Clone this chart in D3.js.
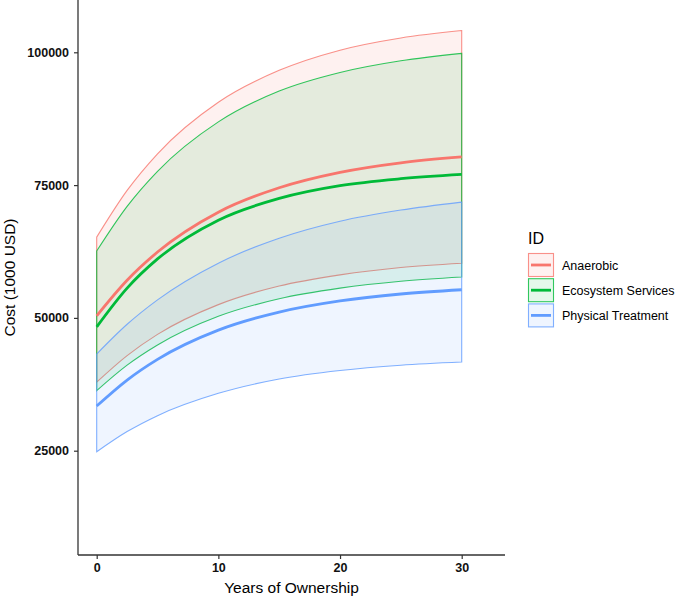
<!DOCTYPE html>
<html><head><meta charset="utf-8">
<script src="https://cdn.jsdelivr.net/npm/d3@7"></script>
<style>
html,body{margin:0;padding:0;background:#fff;}
svg{display:block;font-family:"Liberation Sans",Arial,sans-serif;}
</style></head>
<body><svg id="c" width="685" height="599"></svg>
<script>
const years = [0, 2.5, 5, 10, 15, 20, 25, 30];
const seriesNames = ["Anaerobic", "Ecosystem Services", "Physical Treatment"];
const anaerobicMean  = [50400, 57100, 62400, 69900, 74500, 77400, 79200, 80300];
const anaerobicLower = [37900, 42900, 46900, 52500, 56000, 58100, 59500, 60300];
const anaerobicUpper = [65200, 74000, 80900, 90600, 96600, 100400, 102700, 104100];
const ecoMean  = [48300, 55600, 61100, 68400, 72500, 74900, 76200, 77000];
const ecoLower = [36300, 41100, 44900, 50300, 53600, 55600, 56900, 57700];
const ecoUpper = [62600, 71000, 77600, 86900, 92700, 96200, 98400, 99800];
const physMean  = [33400, 38300, 42200, 47700, 51100, 53200, 54500, 55300];
const physLower = [24800, 28600, 31600, 35800, 38500, 40100, 41100, 41700];
const physUpper = [43200, 48800, 53400, 60300, 65000, 68200, 70300, 71800];
const xTicks = [0, 10, 20, 30];
const yTicks = [25000, 50000, 75000, 100000];
const colors = ["#F8766D", "#00BA38", "#619CFF"];

const series = [
  {name: seriesNames[0], mean: anaerobicMean, lower: anaerobicLower, upper: anaerobicUpper},
  {name: seriesNames[1], mean: ecoMean, lower: ecoLower, upper: ecoUpper},
  {name: seriesNames[2], mean: physMean, lower: physLower, upper: physUpper}
];

const svg = d3.select("#c");
const P = {left: 78, right: 505, top: 0, bottom: 555};
const x = d3.scaleLinear().domain([0, 30]).range([96.7, 461.7]);
const y = d3.scaleLinear().domain([25000, 100000]).range([450.7, 52.3]);

const g = svg.append("g");
const curve = d3.curveMonotoneX;

series.forEach((s, i) => {
  const pts = years.map((t, j) => ({t, lo: s.lower[j], hi: s.upper[j]}));
  const area = d3.area().x(d => x(d.t)).y0(d => y(d.lo)).y1(d => y(d.hi)).curve(curve);
  g.append("path").attr("d", area(pts) + "Z")
    .attr("fill", colors[i]).attr("fill-opacity", 0.1)
    .attr("stroke", colors[i]).attr("stroke-opacity", 0.8).attr("stroke-width", 1.1);
});
series.forEach((s, i) => {
  const pts = years.map((t, j) => ({t, v: s.mean[j]}));
  const line = d3.line().x(d => x(d.t)).y(d => y(d.v)).curve(curve);
  g.append("path").attr("d", line(pts))
    .attr("fill", "none").attr("stroke", colors[i]).attr("stroke-width", 2.8);
});

// axes
const axCol = "#333333";
svg.append("line").attr("x1", P.left).attr("x2", P.left).attr("y1", P.top).attr("y2", P.bottom)
  .attr("stroke", axCol).attr("stroke-width", 1.3);
svg.append("line").attr("x1", P.left).attr("x2", P.right).attr("y1", P.bottom).attr("y2", P.bottom)
  .attr("stroke", axCol).attr("stroke-width", 1.3);

const yAxis = d3.axisLeft(y).tickValues(yTicks).tickSize(4).tickPadding(5).tickFormat(d3.format("d"));
const ya = svg.append("g").attr("transform", `translate(${P.left},0)`).call(yAxis);
ya.select(".domain").remove();
ya.selectAll(".tick line").attr("stroke", axCol).attr("stroke-width", 1.2);
ya.selectAll(".tick text").attr("font-size", 12.5).attr("font-weight", "bold").attr("fill", "#111")
  .attr("font-family", "Liberation Sans, Arial, sans-serif");

const xAxis = d3.axisBottom(x).tickValues(xTicks).tickSize(4).tickPadding(4).tickFormat(d3.format("d"));
const xa = svg.append("g").attr("transform", `translate(0,${P.bottom})`).call(xAxis);
xa.select(".domain").remove();
xa.selectAll(".tick line").attr("stroke", axCol).attr("stroke-width", 1.2);
xa.selectAll(".tick text").attr("font-size", 12.5).attr("font-weight", "bold").attr("fill", "#111")
  .attr("font-family", "Liberation Sans, Arial, sans-serif");

svg.append("text").attr("x", (P.left + P.right) / 2).attr("y", 593)
  .attr("text-anchor", "middle").attr("font-size", 15.5).attr("fill", "#000").text("Years of Ownership");
svg.append("text").attr("transform", `translate(15,${(P.top + P.bottom) / 2}) rotate(-90)`)
  .attr("text-anchor", "middle").attr("font-size", 15.5).attr("fill", "#000").text("Cost (1000 USD)");

// legend
const lg = svg.append("g");
lg.append("text").attr("x", 528).attr("y", 244).attr("font-size", 16).attr("fill", "#000").text("ID");
series.forEach((s, i) => {
  const ky = 253 + i * 25.2;
  lg.append("rect").attr("x", 528.5).attr("y", ky + 0.5).attr("width", 25).attr("height", 23)
    .attr("fill", colors[i]).attr("fill-opacity", 0.1)
    .attr("stroke", colors[i]).attr("stroke-opacity", 0.8).attr("stroke-width", 1.1);
  lg.append("line").attr("x1", 531).attr("x2", 551).attr("y1", ky + 12).attr("y2", ky + 12)
    .attr("stroke", colors[i]).attr("stroke-width", 2.8);
  lg.append("text").attr("x", 562).attr("y", ky + 16.5).attr("font-size", 12.5).attr("fill", "#000").text(s.name);
});
</script></body></html>
